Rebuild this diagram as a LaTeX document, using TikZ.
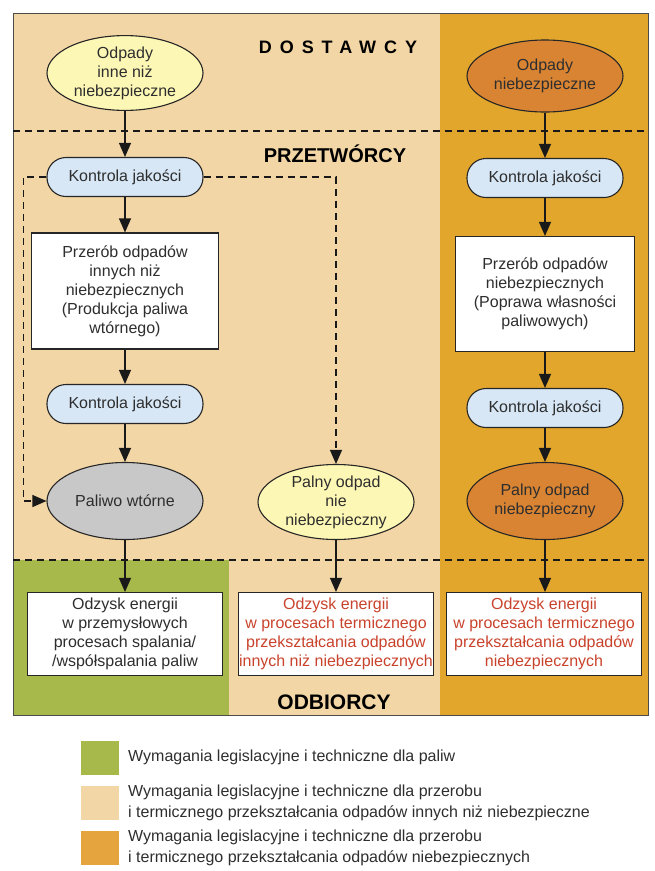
\documentclass[tikz,border=0pt]{standalone}
\usepackage{fontspec}
\setmainfont{Liberation Sans}
\usetikzlibrary{arrows.meta,shapes.geometric}
\definecolor{beige}{HTML}{F3D6A6}
\definecolor{gold}{HTML}{E2A62C}
\definecolor{olive}{HTML}{A6B94A}
\definecolor{amber}{HTML}{E5A43E}
\definecolor{paleyellow}{HTML}{FDF7B5}
\definecolor{rust}{HTML}{D98433}
\definecolor{paleblue}{HTML}{D7E7F6}
\definecolor{ashgrey}{HTML}{C8C8C8}
\definecolor{brick}{HTML}{C9432C}
\begin{document}
\begin{tikzpicture}[x=1pt,y=-1pt,
  base/.style={font=\fontsize{16}{19}\selectfont, text=black!82, draw=black!85, line width=1.1pt, align=center, inner sep=0pt},
  oval/.style={base, ellipse, minimum width=156, minimum height=74},
  check/.style={base, rounded corners=19pt, minimum width=156, minimum height=39, fill=paleblue},
  box/.style={base, fill=white, minimum width=187, minimum height=116},
  outbox/.style={base, fill=white, minimum width=195, minimum height=83},
  flow/.style={-{Triangle[length=14pt,width=12pt]}, line width=1.1pt, black!90},
  alt/.style={flow, dash pattern=on 7pt off 5pt},
  sep/.style={line width=1.1pt, black!90, dash pattern=on 7pt off 5pt},
  swatch/.style={minimum width=38, minimum height=34, inner sep=0pt},
  note/.style={font=\fontsize{16}{21}\selectfont, text=black!82, align=left, anchor=west, inner sep=0pt}]
\useasboundingbox (0,0) rectangle (655,871);
\fill[beige] (13,13) rectangle (440,560);
\fill[gold] (440,13) rectangle (648,560);
\fill[olive] (13,560) rectangle (229,715);
\fill[beige] (229,560) rectangle (440,715);
\fill[gold] (440,560) rectangle (648,715);
\draw[black!70, line width=1pt] (13,13) rectangle (648,715);
\draw[sep] (13,131) -- (648,131);
\draw[sep] (13,560) -- (648,560);
\node (dost) at (338,47) {\fontsize{18}{21}\bfseries\addfontfeature{LetterSpace=44}DOSTAWCY};
\node (przet) at (335,154) {\fontsize{20}{24}\bfseries PRZETWÓRCY};
\node (odb) at (334,702) {\fontsize{21}{24}\bfseries ODBIORCY};
\node[oval, fill=paleyellow, minimum height=68] (d1) at (125,73) {Odpady\\inne niż\\niebezpieczne};
\node[oval, fill=rust, minimum height=72] (d2) at (545,76) {Odpady\\niebezpieczne};
\node[check] (k1) at (125,177) {Kontrola jakości};
\node[check] (k2) at (545,178) {Kontrola jakości};
\node[box] (p1) at (125,291) {Przerób odpadów\\innych niż\\niebezpiecznych\\(Produkcja paliwa\\wtórnego)};
\node[box, minimum width=179, minimum height=115] (p2) at (545,294) {Przerób odpadów\\niebezpiecznych\\(Poprawa własności\\paliwowych)};
\node[check] (k3) at (125,404) {Kontrola jakości};
\node[check] (k4) at (545,408) {Kontrola jakości};
\node[oval, fill=ashgrey, minimum height=77] (f1) at (125,501) {Paliwo wtórne};
\node[oval, fill=paleyellow, minimum height=75] (f2) at (336,502) {Palny odpad\\nie\\niebezpieczny};
\node[oval, fill=rust, minimum height=77] (f3) at (545,501) {Palny odpad\\niebezpieczny};
\node[outbox] (o1) at (125,634) {Odzysk energii\\w przemysłowych\\procesach spalania/\\/współspalania paliw};
\node[outbox, text=brick] (o2) at (336,634) {Odzysk energii\\w procesach termicznego\\przekształcania odpadów\\innych niż niebezpiecznych};
\node[outbox, text=brick] (o3) at (544,634) {Odzysk energii\\w procesach termicznego\\przekształcania odpadów\\niebezpiecznych};
\draw[flow] (d1) -- (k1);
\draw[flow] (k1) -- (p1);
\draw[flow] (p1) -- (k3);
\draw[flow] (k3) -- (f1);
\draw[flow] (f1) -- (o1);
\draw[flow] (d2) -- (k2);
\draw[flow] (k2) -- (p2);
\draw[flow] (p2) -- (k4);
\draw[flow] (k4) -- (f3);
\draw[flow] (f3.south) -- (f3.south |- o3.north);
\draw[flow] (f2) -- (o2);
\draw[alt] (k1.west) -- ++(-23,0) |- (f1.west);
\draw[alt] (k1.east) -| (f2.north);
\node[swatch, fill=olive] (s1) at (100,758) {};
\node[swatch, fill=beige] (s2) at (100,803) {};
\node[swatch, fill=amber] (s3) at (100,848) {};
\node[note] (t1) at (128,757) {Wymagania legislacyjne i techniczne dla paliw};
\node[note] (t2) at (128,803) {Wymagania legislacyjne i techniczne dla przerobu\\i termicznego przekształcania odpadów innych niż niebezpieczne};
\node[note] (t3) at (128,848) {Wymagania legislacyjne i techniczne dla przerobu\\i termicznego przekształcania odpadów niebezpiecznych};
\end{tikzpicture}
\end{document}
